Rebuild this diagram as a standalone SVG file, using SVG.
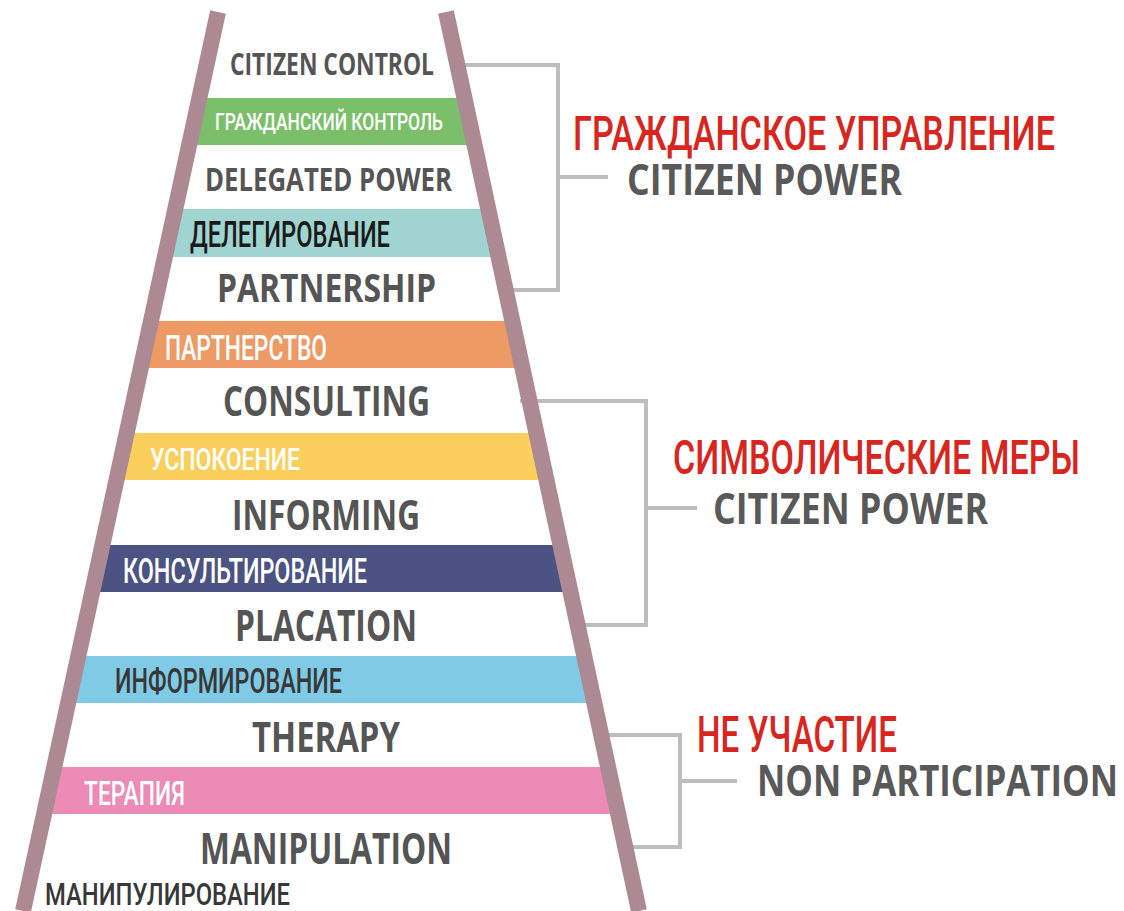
<svg xmlns="http://www.w3.org/2000/svg" width="1124" height="911" viewBox="0 0 1124 911">
<defs>
<clipPath id="ladder"><polygon points="218,12 446,12 639,911 23,911"/></clipPath>
<style>
.en{font-family:"Open Sans","Liberation Sans",sans-serif;font-weight:700;fill:#555555}
.ru{font-family:Roboto,"Noto Sans","Noto Sans CJK SC",sans-serif;font-weight:500}
.w{fill:#ffffff}
.d{fill:#1a1a1a}
.dg{fill:#383838}
.red{font-family:Roboto,"Noto Sans",sans-serif;font-weight:500;fill:#d8261e}
.cat{font-family:"Open Sans","Liberation Sans",sans-serif;font-weight:700;fill:#595959}
.rail{stroke:#ad8a93;stroke-width:16;fill:none}
.br{stroke:#bdbdbd;stroke-width:4;fill:none}
</style>
</defs>
<rect width="1124" height="911" fill="#ffffff"/>
<g id="bands" clip-path="url(#ladder)">
<rect x="0" y="98" width="700" height="47" fill="#7cbf6b"/>
<rect x="0" y="209" width="700" height="48" fill="#a0d4d1"/>
<rect x="0" y="321" width="700" height="47" fill="#ee9a64"/>
<rect x="0" y="433" width="700" height="47" fill="#fbcf5c"/>
<rect x="0" y="545" width="700" height="47" fill="#4a5381"/>
<rect x="0" y="656" width="700" height="47" fill="#80cae5"/>
<rect x="0" y="767" width="700" height="47" fill="#eb8bb6"/>
</g>
<g id="connectors">
<polyline class="br" points="455,65 558,65 558,290 505,290"/>
<line class="br" x1="558" y1="177" x2="608" y2="177"/>
<polyline class="br" points="520,401 646,401 646,625 575,625"/>
<line class="br" x1="646" y1="508" x2="697" y2="508"/>
<polyline class="br" points="598,735 680,735 680,847 620,847"/>
<line class="br" x1="680" y1="781" x2="737" y2="781"/>
</g>
<g id="rails">
<line class="rail" x1="218" y1="12" x2="23" y2="911"/>
<line class="rail" x1="446" y1="12" x2="639" y2="911"/>
</g>
<g id="citizen-control">
<text class="en" x="230" y="75" font-size="31" textLength="204" lengthAdjust="spacingAndGlyphs">CITIZEN CONTROL</text>
<text class="ru w" x="215" y="130" font-size="24" textLength="228" lengthAdjust="spacingAndGlyphs">ГРАЖДАНСКИЙ КОНТРОЛЬ</text>
</g>
<g id="delegated-power">
<text class="en" x="205" y="191" font-size="32" textLength="247" lengthAdjust="spacingAndGlyphs">DELEGATED POWER</text>
<text class="ru d" x="190" y="247" font-size="36" textLength="200" lengthAdjust="spacingAndGlyphs">ДЕЛЕГИРОВАНИЕ</text>
</g>
<g id="partnership">
<text class="en" x="217" y="302" font-size="40" textLength="219" lengthAdjust="spacingAndGlyphs">PARTNERSHIP</text>
<text class="ru w" x="165" y="360" font-size="35" textLength="162" lengthAdjust="spacingAndGlyphs">ПАРТНЕРСТВО</text>
</g>
<g id="consulting">
<text class="en" x="223" y="416" font-size="41" textLength="207" lengthAdjust="spacingAndGlyphs">CONSULTING</text>
<text class="ru w" x="150" y="470" font-size="32" textLength="150" lengthAdjust="spacingAndGlyphs">УСПОКОЕНИЕ</text>
</g>
<g id="informing">
<text class="en" x="232" y="530" font-size="42" textLength="188" lengthAdjust="spacingAndGlyphs">INFORMING</text>
<text class="ru w" x="123" y="583" font-size="35" textLength="244" lengthAdjust="spacingAndGlyphs">КОНСУЛЬТИРОВАНИЕ</text>
</g>
<g id="placation">
<text class="en" x="235" y="641" font-size="43" textLength="182" lengthAdjust="spacingAndGlyphs">PLACATION</text>
<text class="ru dg" x="115" y="693" font-size="35" textLength="227" lengthAdjust="spacingAndGlyphs">ИНФОРМИРОВАНИЕ</text>
</g>
<g id="therapy">
<text class="en" x="252" y="752" font-size="42" textLength="148" lengthAdjust="spacingAndGlyphs">THERAPY</text>
<text class="ru w" x="84" y="805" font-size="33" textLength="101" lengthAdjust="spacingAndGlyphs">ТЕРАПИЯ</text>
</g>
<g id="manipulation">
<text class="en" x="200" y="864" font-size="43" textLength="252" lengthAdjust="spacingAndGlyphs">MANIPULATION</text>
<text class="ru dg" x="45" y="905" font-size="31" textLength="245" lengthAdjust="spacingAndGlyphs">МАНИПУЛИРОВАНИЕ</text>
</g>
<g id="group-citizen-power">
<text class="red" x="573" y="150" font-size="49" textLength="482" lengthAdjust="spacingAndGlyphs">ГРАЖДАНСКОЕ УПРАВЛЕНИЕ</text>
<text class="cat" x="627" y="195" font-size="43" textLength="275" lengthAdjust="spacingAndGlyphs">CITIZEN POWER</text>
</g>
<g id="group-tokenism">
<text class="red" x="673" y="474" font-size="49" textLength="407" lengthAdjust="spacingAndGlyphs">СИМВОЛИЧЕСКИЕ МЕРЫ</text>
<text class="cat" x="713" y="524" font-size="43" textLength="275" lengthAdjust="spacingAndGlyphs">CITIZEN POWER</text>
</g>
<g id="group-nonparticipation">
<text class="red" x="697" y="752" font-size="50" textLength="200" lengthAdjust="spacingAndGlyphs">НЕ УЧАСТИЕ</text>
<text class="cat" x="757" y="796" font-size="43" textLength="361" lengthAdjust="spacingAndGlyphs">NON PARTICIPATION</text>
</g>
</svg>
